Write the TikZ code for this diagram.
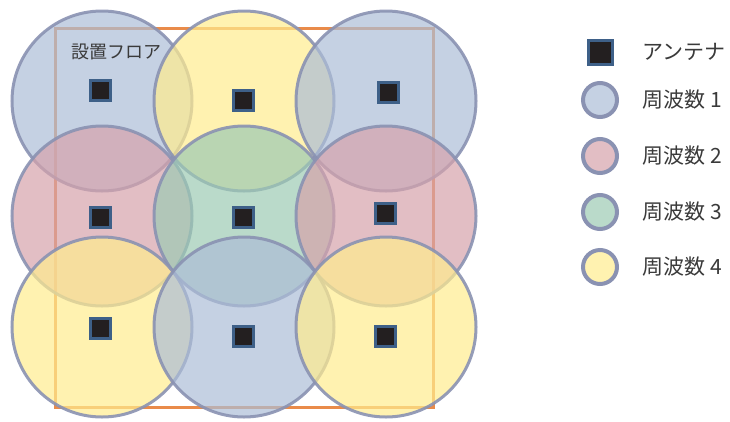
\documentclass[tikz,border=0pt]{standalone}
\usepackage{fontspec}
\setmainfont{Noto Sans CJK JP}
\usetikzlibrary{positioning}
\definecolor{freqone}{RGB}{172,189,215}
\definecolor{freqtwo}{RGB}{214,162,171}
\definecolor{freqthree}{RGB}{156,202,179}
\definecolor{freqfour}{RGB}{255,236,142}
\definecolor{rim}{HTML}{8A92B2}
\definecolor{floorline}{HTML}{E98B4A}
\definecolor{antfill}{HTML}{231F20}
\definecolor{antrim}{HTML}{3E6088}
\definecolor{labelgray}{HTML}{3A3A3A}

\begin{document}
\begin{tikzpicture}[x=1pt, y=-1pt, thick]
\useasboundingbox (0,0) rectangle (730,421);

% floor
\draw [draw=floorline, line width=3pt] (55,28) rectangle (433,407);

% cells
\tikzstyle{every node}=[circle, inner sep=0pt, minimum size=180pt, draw=rim, line width=3pt, fill opacity=0.7, draw opacity=0.9]
\draw    (102,101) node [fill=freqone]   (c11) {}
         (244,101) node [fill=freqfour]  (c12) {}
         (386,101) node [fill=freqone]   (c13) {}
         (102,216) node [fill=freqtwo]   (c21) {}
         (244,216) node [fill=freqthree] (c22) {}
         (386,216) node [fill=freqtwo]   (c23) {}
         (102,327) node [fill=freqfour]  (c31) {}
         (244,327) node [fill=freqone]   (c32) {}
         (386,327) node [fill=freqfour]  (c33) {};

% antennas
\tikzstyle{every node}=[rectangle, inner sep=0pt, minimum size=20pt, fill=antfill, draw=antrim, line width=3pt]
\draw    (100,90)  node (a11) {}
         (243,100) node (a12) {}
         (388,92)  node (a13) {}
         (100,217) node (a21) {}
         (243,217) node (a22) {}
         (385,213) node (a23) {}
         (100,328) node (a31) {}
         (243,336) node (a32) {}
         (385,336) node (a33) {};

\node [draw=none, fill=none, text=labelgray, font=\fontsize{18pt}{18pt}\selectfont] (floorlabel) at (116,52) {設置フロア};

% legend
\node [minimum size=24pt] (lant) at (600,52) {};
\tikzstyle{every node}=[circle, inner sep=0pt, minimum size=34pt, draw=rim, line width=4pt]
\node [fill=freqone!70!white]   (lone)   at (600,100) {};
\node [fill=freqtwo!70!white]   (ltwo)   at (600,156) {};
\node [fill=freqthree!70!white] (lthree) at (600,212) {};
\node [fill=freqfour!70!white]  (lfour)  at (600,267) {};

\tikzstyle{every node}=[inner sep=0pt, anchor=west, text=labelgray, font=\fontsize{21pt}{21pt}\selectfont]
\node (tant)   at (642,52)  {アンテナ};
\node (tone)   at (642,100) {周波数 1};
\node (ttwo)   at (642,156) {周波数 2};
\node (tthree) at (642,212) {周波数 3};
\node (tfour)  at (642,267) {周波数 4};

\end{tikzpicture}
\end{document}
